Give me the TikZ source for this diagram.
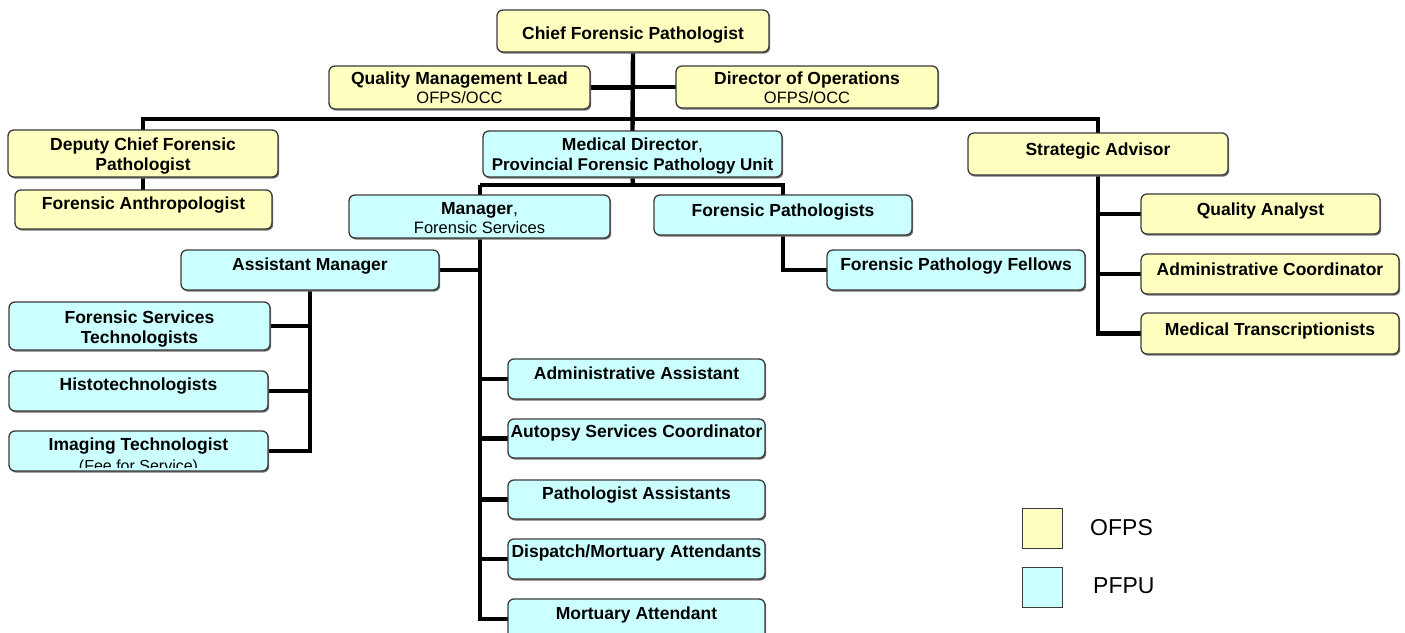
\documentclass[tikz,border=0pt]{standalone}
\usepackage{fontspec}
\setmainfont{Liberation Sans}
\usetikzlibrary{shadows,backgrounds}
\definecolor{ofps}{HTML}{FFFFC0}
\definecolor{pfpu}{HTML}{CCFFFF}
\definecolor{bord}{HTML}{3A3A3A}
\tikzset{
  orgbox/.style={draw=bord, line width=1.3pt, rounded corners=6pt, inner sep=0pt, outer sep=0pt,
    anchor=north west,
    drop shadow={shadow xshift=1.2pt, shadow yshift=-1.6pt, fill=black!55, opacity=1}},
  yb/.style={orgbox, fill=ofps},
  cb/.style={orgbox, fill=pfpu},
  lb/.style={anchor=base, inner sep=0pt, font=\fontsize{17.5}{20}\selectfont\bfseries},
  lbs/.style={anchor=base, inner sep=0pt, font=\fontsize{17}{20}\selectfont\bfseries},
  lr/.style={anchor=base, inner sep=0pt, font=\fontsize{16.5}{20}\selectfont},
  legbox/.style={draw=bord, line width=1.4pt, inner sep=0pt, minimum size=40pt, anchor=north west},
  legtxt/.style={anchor=west, inner sep=0pt, font=\fontsize{23}{26}\selectfont},
  conn/.style={line width=4.4pt, black, line join=miter},
}
% name, style, x1, y1, x2, y2
\newcommand\obox[6]{\node[#2, minimum width={(#5-#3)*1pt}, minimum height={(#6-#4)*1pt}] (#1) at (#3,#4) {};}
\begin{document}
\begin{tikzpicture}[x=1pt,y=-1pt]
\useasboundingbox (0,0) rectangle (1405,632);
\clip (0,0) rectangle (1405,632);
\coordinate (bar) at (633,119);
\coordinate (mdbar) at (633,185);
\coordinate (spinetop) at (480,185);
% ---------- boxes ----------
\obox{chief}{yb}{497}{10}{769}{52}
\obox{qml}{yb}{329}{66}{590}{109}
\obox{dir}{yb}{676}{66}{938}{108}
\obox{deputy}{yb}{8}{130}{278}{177}
\obox{anthro}{yb}{15}{190}{272}{229}
\obox{meddir}{cb}{483}{131}{782}{177}
\obox{strat}{yb}{968}{133}{1228}{175}
\obox{mgr}{cb}{349}{195}{610}{238}
\obox{fp}{cb}{654}{195}{912}{235}
\obox{fel}{cb}{827}{250}{1085}{290}
\obox{qa}{yb}{1141}{194}{1380}{234}
\obox{ac}{yb}{1141}{254}{1399}{294}
\obox{mt}{yb}{1141}{313}{1399}{354}
\obox{asst}{cb}{181}{250}{439}{290}
\obox{fst}{cb}{9}{302}{270}{350}
\obox{histo}{cb}{9}{371}{268}{411}
\obox{img}{cb}{9}{431}{268}{471}
\obox{aa}{cb}{508}{359}{765}{399}
\obox{asc}{cb}{508}{419}{765}{458}
\obox{pa}{cb}{508}{480}{765}{519}
\obox{dma}{cb}{508}{539}{765}{579}
\obox{mort}{cb}{508}{599}{765}{639}
% ---------- texts ----------
\node[lb] (chief-t) at ([shift={(0,29)}]chief.north) {Chief Forensic Pathologist};
\node[lb] (qml-t) at ([shift={(0,18.5)}]qml.north) {Quality Management Lead};
\node[lr] (qml-t2) at ([shift={(0,37.5)}]qml.north) {OFPS/OCC};
\node[lb] (dir-t) at ([shift={(0,18.5)}]dir.north) {Director of Operations};
\node[lr] (dir-t2) at ([shift={(0,37.5)}]dir.north) {OFPS/OCC};
\node[lb] (deputy-t) at ([shift={(0,20.5)}]deputy.north) {Deputy Chief Forensic};
\node[lb] (deputy-t2) at ([shift={(0,40.5)}]deputy.north) {Pathologist};
\node[lb] (anthro-t) at ([shift={(0,19.5)}]anthro.north) {Forensic Anthropologist};
\node[lb] (meddir-t) at ([shift={(0,19.5)}]meddir.north) {Medical Director\textmd{,}};
\node[lbs] (meddir-t2) at ([shift={(0,39.5)}]meddir.north) {Provincial Forensic Pathology Unit};
\node[lb] (strat-t) at ([shift={(0,22)}]strat.north) {Strategic Advisor};
\node[lb] (mgr-t) at ([shift={(0,19.5)}]mgr.north) {Manager\textmd{,}};
\node[lr] (mgr-t2) at ([shift={(0,38.5)}]mgr.north) {Forensic Services};
\node[lb] (fp-t) at ([shift={(0,21)}]fp.north) {Forensic Pathologists};
\node[lb] (fel-t) at ([shift={(0,20.5)}]fel.north) {Forensic Pathology Fellows};
\node[lb] (qa-t) at ([shift={(0,21.5)}]qa.north) {Quality Analyst};
\node[lb] (ac-t) at ([shift={(0,21.5)}]ac.north) {Administrative Coordinator};
\node[lb] (mt-t) at ([shift={(0,22)}]mt.north) {Medical Transcriptionists};
\node[lb] (asst-t) at ([shift={(0,20.5)}]asst.north) {Assistant Manager};
\node[lb] (fst-t) at ([shift={(0,21.5)}]fst.north) {Forensic Services};
\node[lb] (fst-t2) at ([shift={(0,41.5)}]fst.north) {Technologists};
\node[lb] (histo-t) at ([shift={(0,19.5)}]histo.north) {Histotechnologists};
\node[lb] (img-t) at ([shift={(0,19.5)}]img.north) {Imaging Technologist};
\begin{scope}
  \clip ([shift={(2,0)}]img.north west) rectangle ([shift={(-2,-4)}]img.south east);
  \node[anchor=base, inner sep=0pt, font=\fontsize{16}{18}\selectfont] (img-t2) at ([shift={(0,40.5)}]img.north) {(Fee for Service)};
\end{scope}
\node[lb] (aa-t) at ([shift={(0,20.5)}]aa.north) {Administrative Assistant};
\node[lb] (asc-t) at ([shift={(0,18.5)}]asc.north) {Autopsy Services Coordinator};
\node[lb] (pa-t) at ([shift={(0,19.5)}]pa.north) {Pathologist Assistants};
\node[lb] (dma-t) at ([shift={(0,18.5)}]dma.north) {Dispatch/Mortuary Attendants};
\node[lb] (mort-t) at ([shift={(0,20.5)}]mort.north) {Mortuary Attendant};
% ---------- legend ----------
\node[legbox, fill=ofps] (legy) at (1022,508) {};
\node[legbox, fill=pfpu] (legc) at (1022,567) {};
\node[legtxt] (legy-t) at (1090,528) {OFPS};
\node[legtxt] (legc-t) at (1093,586) {PFPU};
% ---------- connectors ----------
\begin{scope}[on background layer]
  \draw[conn] (chief.south) -- (meddir.north);
  \draw[conn] (qml.east) -- (qml.east -| chief.south);
  \draw[conn] (dir.west) -- (dir.west -| chief.south);
  \draw[conn] (deputy.north) |- (bar) -| (strat.north);
  \draw[conn] (deputy.south) -- (deputy.south |- anthro.north);
  \draw[conn] (meddir.south) -- (mdbar);
  \draw[conn] (spinetop) -| (fp.north);
  \draw[conn] (spinetop) |- (mort.west);
  \draw[conn] (fp.south) |- (fel.west);
  \draw[conn] (asst.east) -- (asst.east -| spinetop);
  \draw[conn] (asst.south) |- (fst.east);
  \draw[conn] (asst.south) |- (histo.east);
  \draw[conn] (asst.south) |- (img.east);
  \draw[conn] (aa.west -| spinetop) -- (aa.west);
  \draw[conn] (asc.west -| spinetop) -- (asc.west);
  \draw[conn] (pa.west -| spinetop) -- (pa.west);
  \draw[conn] (dma.west -| spinetop) -- (dma.west);
  \draw[conn] (strat.south) |- (qa.west);
  \draw[conn] (strat.south) |- (ac.west);
  \draw[conn] (strat.south) |- (mt.west);
\end{scope}
\end{tikzpicture}
\end{document}
